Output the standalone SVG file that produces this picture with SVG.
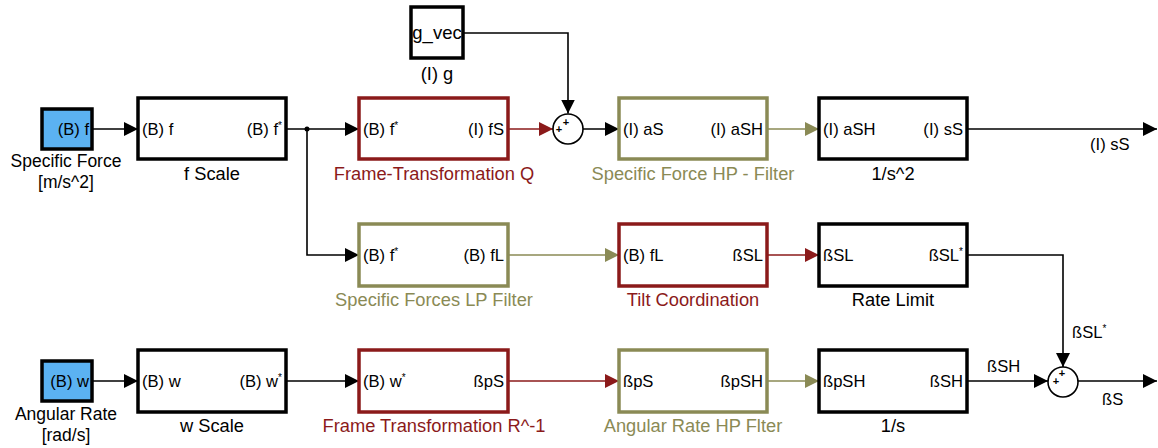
<svg xmlns="http://www.w3.org/2000/svg" width="1158" height="448" viewBox="0 0 1158 448">
<style>
text{font-family:"Liberation Sans",Arial,sans-serif;fill:#000}
.port{font-size:16.6px}
.name{font-size:18.3px;text-anchor:middle}
.two{font-size:17.5px}
.r{fill:#8b1a1a}
.o{fill:#8a8a55}
.blk{fill:#fff;stroke:#000;stroke-width:3.5}
.red{fill:#fff;stroke:#8b1a1a;stroke-width:3.5}
.olv{fill:#fff;stroke:#8a8a55;stroke-width:3.5}
.inp{fill:#5bb2f2;stroke:#000;stroke-width:3.5}
.lk{fill:none;stroke:#000;stroke-width:1.6}
.lr{fill:none;stroke:#8b1a1a;stroke-width:1.6}
.lo{fill:none;stroke:#8a8a55;stroke-width:1.6}
.sum{fill:#fff;stroke:#000;stroke-width:1.6}
.pl{font-size:11px;font-weight:bold;text-anchor:middle}
.sup{font-size:10px}
</style>
<defs>
<marker id="ak" markerUnits="userSpaceOnUse" markerWidth="15" markerHeight="15" refX="14" refY="7" orient="auto"><path d="M0,0 L14,7 L0,14 z" fill="#000"/></marker>
<marker id="ar" markerUnits="userSpaceOnUse" markerWidth="15" markerHeight="15" refX="14" refY="7" orient="auto"><path d="M0,0 L14,7 L0,14 z" fill="#8b1a1a"/></marker>
<marker id="ao" markerUnits="userSpaceOnUse" markerWidth="15" markerHeight="15" refX="14" refY="7" orient="auto"><path d="M0,0 L14,7 L0,14 z" fill="#8a8a55"/></marker>
</defs>

<g id="connectors">
<path class="lk" d="M92,129 H138" marker-end="url(#ak)"/>
<path class="lk" d="M286,129 H359" marker-end="url(#ak)"/>
<circle cx="307" cy="129" r="2.5" fill="#000"/>
<path class="lk" d="M307,129 V255 H359" marker-end="url(#ak)"/>
<path class="lr" d="M508,129 H553" marker-end="url(#ar)"/>
<path class="lk" d="M463,33 H568 V113.5" marker-end="url(#ak)"/>
<path class="lk" d="M583,129 H619" marker-end="url(#ak)"/>
<path class="lo" d="M767,129 H819" marker-end="url(#ao)"/>
<path class="lk" d="M967,129 H1157" marker-end="url(#ak)"/>
<path class="lo" d="M508,255 H619" marker-end="url(#ao)"/>
<path class="lr" d="M767,255 H819" marker-end="url(#ar)"/>
<path class="lk" d="M967,255 H1063 V367" marker-end="url(#ak)"/>
<path class="lk" d="M92,381 H138" marker-end="url(#ak)"/>
<path class="lk" d="M286,381 H359" marker-end="url(#ak)"/>
<path class="lr" d="M508,381 H619" marker-end="url(#ar)"/>
<path class="lo" d="M767,381 H819" marker-end="url(#ao)"/>
<path class="lk" d="M967,381 H1048" marker-end="url(#ak)"/>
<path class="lk" d="M1078,381 H1157" marker-end="url(#ak)"/>
<text class="port" x="1090" y="150">(I) sS</text>
<text class="port" x="1072" y="338">ßSL<tspan class="sup" dy="-6">*</tspan></text>
<text class="port" x="987" y="372">ßSH</text>
<text class="port" x="1102" y="405">ßS</text>
</g>

<g id="specific-force">
<rect class="inp" x="42" y="109" width="50" height="40"/>
<text class="port" x="89" y="135" text-anchor="end">(B) f</text>
<text class="name two" x="66" y="167">Specific Force</text>
<text class="name two" x="66" y="188">[m/s^2]</text>
</g>

<g id="f-scale">
<rect class="blk" x="138" y="98" width="148" height="61"/>
<text class="port" x="142" y="135">(B) f</text>
<text class="port" x="282" y="135" text-anchor="end">(B) f<tspan class="sup" dy="-6">*</tspan></text>
<text class="name" x="212" y="180">f Scale</text>
</g>

<g id="g-vec">
<rect class="blk" x="411" y="7" width="52" height="51"/>
<text x="437" y="39" text-anchor="middle" font-size="18.5">g_vec</text>
<text class="name" x="437" y="80">(I) g</text>
</g>

<g id="frame-transformation-q">
<rect class="red" x="359" y="98" width="149" height="61"/>
<text class="port" x="363" y="135">(B) f<tspan class="sup" dy="-6">*</tspan></text>
<text class="port" x="504" y="135" text-anchor="end">(I) fS</text>
<text class="name r" x="434" y="180">Frame-Transformation Q</text>
</g>

<g id="sum1">
<circle class="sum" cx="568" cy="129" r="15"/>
<text class="pl" x="566" y="126">+</text>
<text class="pl" x="559" y="133">+</text>
</g>

<g id="specific-force-hp-filter">
<rect class="olv" x="619" y="98" width="148" height="61"/>
<text class="port" x="623" y="135">(I) aS</text>
<text class="port" x="763" y="135" text-anchor="end">(I) aSH</text>
<text class="name o" x="693" y="180">Specific Force HP - Filter</text>
</g>

<g id="int-1-s2">
<rect class="blk" x="819" y="98" width="148" height="61"/>
<text class="port" x="823" y="135">(I) aSH</text>
<text class="port" x="963" y="135" text-anchor="end">(I) sS</text>
<text class="name" x="893" y="180">1/s^2</text>
</g>

<g id="specific-forces-lp-filter">
<rect class="olv" x="359" y="224" width="149" height="62"/>
<text class="port" x="363" y="261">(B) f<tspan class="sup" dy="-6">*</tspan></text>
<text class="port" x="504" y="261" text-anchor="end">(B) fL</text>
<text class="name o" x="434" y="306">Specific Forces LP Filter</text>
</g>

<g id="tilt-coordination">
<rect class="red" x="619" y="224" width="148" height="62"/>
<text class="port" x="623" y="261">(B) fL</text>
<text class="port" x="763" y="261" text-anchor="end">ßSL</text>
<text class="name r" x="693" y="306">Tilt Coordination</text>
</g>

<g id="rate-limit">
<rect class="blk" x="819" y="224" width="148" height="62"/>
<text class="port" x="823" y="261">ßSL</text>
<text class="port" x="963" y="261" text-anchor="end">ßSL<tspan class="sup" dy="-6">*</tspan></text>
<text class="name" x="893" y="306">Rate Limit</text>
</g>

<g id="angular-rate">
<rect class="inp" x="42" y="361" width="50" height="40"/>
<text class="port" x="89" y="387" text-anchor="end">(B) w</text>
<text class="name two" x="66" y="420">Angular Rate</text>
<text class="name two" x="66" y="441">[rad/s]</text>
</g>

<g id="w-scale">
<rect class="blk" x="138" y="350" width="148" height="62"/>
<text class="port" x="142" y="387">(B) w</text>
<text class="port" x="282" y="387" text-anchor="end">(B) w<tspan class="sup" dy="-6">*</tspan></text>
<text class="name" x="212" y="432">w Scale</text>
</g>

<g id="frame-transformation-r">
<rect class="red" x="359" y="350" width="149" height="62"/>
<text class="port" x="363" y="387">(B) w<tspan class="sup" dy="-6">*</tspan></text>
<text class="port" x="504" y="387" text-anchor="end">ßpS</text>
<text class="name r" x="434" y="432">Frame Transformation R^-1</text>
</g>

<g id="angular-rate-hp-filter">
<rect class="olv" x="619" y="350" width="148" height="62"/>
<text class="port" x="623" y="387">ßpS</text>
<text class="port" x="763" y="387" text-anchor="end">ßpSH</text>
<text class="name o" x="693" y="432">Angular Rate HP Flter</text>
</g>

<g id="int-1-s">
<rect class="blk" x="819" y="350" width="148" height="62"/>
<text class="port" x="823" y="387">ßpSH</text>
<text class="port" x="963" y="387" text-anchor="end">ßSH</text>
<text class="name" x="893" y="432">1/s</text>
</g>

<g id="sum2">
<circle class="sum" cx="1063" cy="382" r="15"/>
<text class="pl" x="1062" y="377">+</text>
<text class="pl" x="1056" y="385">+</text>
</g>
</svg>
